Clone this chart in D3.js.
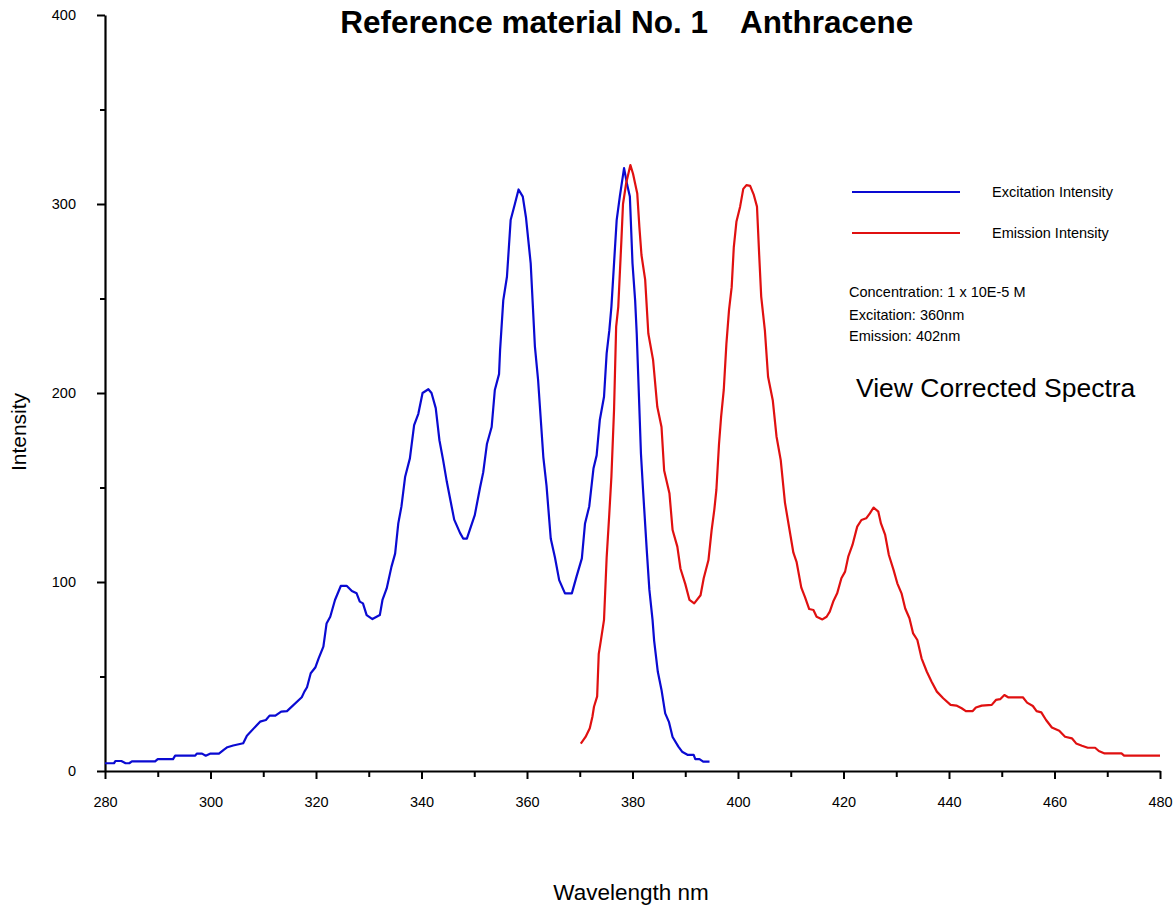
<!DOCTYPE html>
<html>
<head>
<meta charset="utf-8">
<script src="https://cdn.jsdelivr.net/npm/d3@7"></script>
<style>
  html, body { margin: 0; padding: 0; background: #fff; }
  svg { display: block; font-family: "Liberation Sans", Arial, sans-serif; }
</style>
</head>
<body>
<svg id="chart" width="1174" height="910"></svg>
<script>
// Excitation spectrum of anthracene: [wavelength nm, intensity]
const excitation = [
  [280,4.1],[281.7,4.1],[282,5.3],[283.1,5.3],[283.9,4.1],[284.6,4.1],[285.1,5.1],[289.5,5.1],
  [290,6.3],[292.9,6.3],[293.3,8.1],[297.1,8.1],[297.4,9.2],[298.4,9.2],[299.1,8.1],[300,9.2],
  [301.6,9.2],[302.5,11.2],[303.2,12.6],[304.3,13.5],[306.2,14.7],[306.9,18.7],[309.4,26.1],
  [310.5,27],[311.2,29.3],[312.3,29.3],[313.4,31.4],[314.5,31.7],[317.3,39],[317.8,42],
  [318.3,44.3],[319,51.7],[319.9,54.9],[320.5,59.6],[321.4,65.8],[322,78],[322.7,81.6],
  [323.6,90.5],[324.7,97.9],[325.8,98],[326.8,95.2],[327.7,94],[328.3,89.6],[328.9,88.7],
  [329.6,82.5],[330.7,80.4],[332.1,82.5],[332.6,90.5],[333.4,96.6],[334.3,108],[335,115],
  [335.6,131],[336.2,140],[336.9,155.7],[337.8,165.4],[338.6,183],[339.4,189],[340.2,200],
  [341.3,202],[341.9,200],[342.7,192],[343.4,175],[344.1,164.5],[344.8,153],[345.5,143],
  [346.2,133],[347.3,126],[347.9,123],[348.6,123],[350.1,135.4],[351.1,150],[351.7,158],
  [352.4,173],[353.3,182],[353.9,201.6],[354.7,210],[354.9,222.8],[355.5,249],[356.2,261.5],
  [356.9,291.5],[357.7,300],[358.4,307.7],[359.2,303.9],[359.8,293],[360.7,268.6],[361.5,224.5],
  [362.1,207],[363.1,166],[363.7,151],[364.5,123],[365.3,113],[366.1,101],[367.2,94],[368.5,94],
  [369.4,103],[370.4,112.5],[371,131],[371.8,140],[372.6,160],[373.2,167],[373.8,185.7],
  [374.6,198],[375.1,221],[375.6,233],[376,245.6],[376.5,268.6],[377,291.5],[377.6,304],
  [378.4,319],[379,310],[379.5,304],[380,268.6],[380.5,249],[380.8,231.5],[381.2,200],
  [381.6,168],[382,148.7],[382.7,117],[383.2,95.8],[383.8,80],[384.1,69],[384.8,52.5],
  [385.5,42.9],[386.2,30.5],[386.9,26],[387.6,18],[388.7,12.9],[389.4,10.2],[390.5,8.5],
  [391.6,8.5],[391.9,6.3],[392.7,6.3],[393.4,5],[394.6,5]
];

// Emission spectrum of anthracene: [wavelength nm, intensity]
const emission = [
  [370.2,14.5],[371.1,18],[371.9,22.6],[372.4,28.7],[372.7,34],[373.3,39.5],[373.6,62],[374,69],
  [374.6,80],[375.1,113],[375.6,136],[376,155.7],[376.5,191],[376.9,235],[377.3,245.6],[377.9,281],
  [378.2,300],[378.8,311],[379.6,320.6],[380.1,316],[380.9,305.6],[381.3,288],[381.7,273],
  [382.4,260],[383,231.5],[383.9,217.5],[384.7,192.7],[385.5,182],[386,159],[387,147],
  [387.6,127.5],[388.5,118.7],[389.1,107],[390,99],[390.8,90.5],[391.7,88.7],[392.9,93],
  [393.5,102],[394.4,111.6],[395,127.5],[395.5,138],[395.9,148.7],[396.4,173],[396.8,187.5],
  [397.3,201.6],[397.8,226],[398.3,244],[398.8,256],[399.2,277],[399.7,290.6],[400.4,298.6],
  [401,308],[401.6,310],[402.3,309.6],[403,304.8],[403.6,298.6],[404,274],[404.4,251],
  [405.1,233],[405.7,208.6],[406.6,196],[407.3,177],[408.1,164.5],[408.9,142],[409.5,132],
  [410.5,115.5],[411.1,110.7],[412,97],[412.7,92],[413.5,85.7],[414.3,85.2],[414.9,81.6],
  [416,80.2],[416.8,81.6],[417.4,84.3],[418.1,90],[418.8,94],[419.6,102],[420.3,105.5],
  [420.9,113.4],[421.7,119.6],[422.6,129.3],[423.4,132.8],[424.3,133.7],[425,136.3],
  [425.7,139.4],[426.6,137.2],[427.1,131],[427.9,124.9],[428.6,114.3],[429.5,106.3],
  [430.2,99.3],[431,94],[431.7,86],[432.5,80.8],[433.2,72.8],[434,69.3],[434.8,59.6],
  [435.8,52.5],[436.7,47.2],[437.7,42],[438.9,38.5],[440.3,35],[441.4,34.6],[442.4,33.2],
  [443.2,31.7],[444.5,31.7],[445.1,33.6],[446.2,34.6],[448.1,35],[448.9,37.6],[449.7,38],
  [450.5,40.2],[451.2,39],[454,39],[454.8,36.2],[455.9,34.4],[456.6,31.7],[457.5,31],
  [458.4,27],[459.5,23],[460.9,21.3],[462,18.1],[463.3,17.3],[464.1,14.6],[465.2,13.4],
  [466.3,12.3],[467.7,12.3],[468.4,10.6],[469.5,9.3],[472.7,9.3],[473.2,8.1],[480,8.1]
];

// Axis ticks
const xTicks = d3.range(280, 481, 10);
const xLabelled = d3.range(280, 481, 20);
const yTicks = d3.range(0, 401, 50);
const yLabelled = [0, 100, 200, 300, 400];

const seriesNames = ["Excitation Intensity", "Emission Intensity"];
const infoLines = ["Concentration: 1 x 10E-5 M", "Excitation: 360nm", "Emission: 402nm"];

const svg = d3.select("#chart");
const x = d3.scaleLinear().domain([280, 480]).range([105, 1160]);
const y = d3.scaleLinear().domain([0, 400]).range([771, 15]);

const blue = "#0a0ad2";
const red = "#e01010";

// X axis
const xAxis = d3.axisBottom(x)
  .tickValues(xTicks)
  .tickSizeInner(8)
  .tickSizeOuter(0)
  .tickPadding(18)
  .tickFormat(d => xLabelled.includes(d) ? d : "");
const gx = svg.append("g").attr("transform", `translate(0,${y(0)})`).call(xAxis);
gx.select(".domain").attr("stroke", "#000").attr("stroke-width", 2.2);
gx.selectAll(".tick line").attr("stroke", "#000").attr("stroke-width", 2)
  .attr("y2", d => xLabelled.includes(d) ? 8 : 6);
gx.selectAll(".tick text").attr("fill", "#000").attr("font-size", "14.5px")
  .attr("font-family", "Liberation Sans, Arial, sans-serif");

// Y axis
const yAxis = d3.axisLeft(y)
  .tickValues(yTicks)
  .tickSizeInner(8)
  .tickSizeOuter(0)
  .tickPadding(21)
  .tickFormat(d => yLabelled.includes(d) ? d : "");
const gy = svg.append("g").attr("transform", `translate(${x(280)},0)`).call(yAxis);
gy.select(".domain").attr("stroke", "#000").attr("stroke-width", 2.2);
gy.selectAll(".tick line").attr("stroke", "#000").attr("stroke-width", 2)
  .attr("x2", d => yLabelled.includes(d) ? -8 : -5);
gy.selectAll(".tick text").attr("fill", "#000").attr("font-size", "14.5px")
  .attr("font-family", "Liberation Sans, Arial, sans-serif");

// Spectra
const line = d3.line().x(d => x(d[0])).y(d => y(d[1]));
svg.append("path").datum(excitation).attr("d", line)
  .attr("fill", "none").attr("stroke", blue).attr("stroke-width", 2.2).attr("stroke-linejoin", "round");
svg.append("path").datum(emission).attr("d", line)
  .attr("fill", "none").attr("stroke", red).attr("stroke-width", 2.2).attr("stroke-linejoin", "round");

// Title
const title = svg.append("g").attr("font-weight", "bold").attr("font-size", "31.5px").attr("fill", "#000");
title.append("text").attr("x", 708).attr("y", 33).attr("text-anchor", "end").text("Reference material No. 1");
title.append("text").attr("x", 740).attr("y", 33).text("Anthracene");

// Axis titles
svg.append("text").attr("x", 631).attr("y", 900).attr("text-anchor", "middle")
  .attr("font-size", "22.5px").text("Wavelength nm");
svg.append("text").attr("transform", "translate(26,432) rotate(-90)").attr("text-anchor", "middle")
  .attr("font-size", "21px").text("Intensity");

// Legend
const legendColors = [blue, red];
const legendY = [192, 233];
seriesNames.forEach((name, i) => {
  svg.append("line").attr("x1", 852).attr("x2", 960).attr("y1", legendY[i]).attr("y2", legendY[i])
    .attr("stroke", legendColors[i]).attr("stroke-width", 2);
  svg.append("text").attr("x", 992).attr("y", legendY[i] + 5).attr("font-size", "14.5px").text(name);
});

// Sample information
const infoY = [297, 319.5, 340.5];
infoLines.forEach((t, i) => {
  svg.append("text").attr("x", 849).attr("y", infoY[i]).attr("font-size", "14.5px").text(t);
});
svg.append("text").attr("x", 856).attr("y", 397).attr("font-size", "26.5px").text("View Corrected Spectra");
</script>
</body>
</html>
